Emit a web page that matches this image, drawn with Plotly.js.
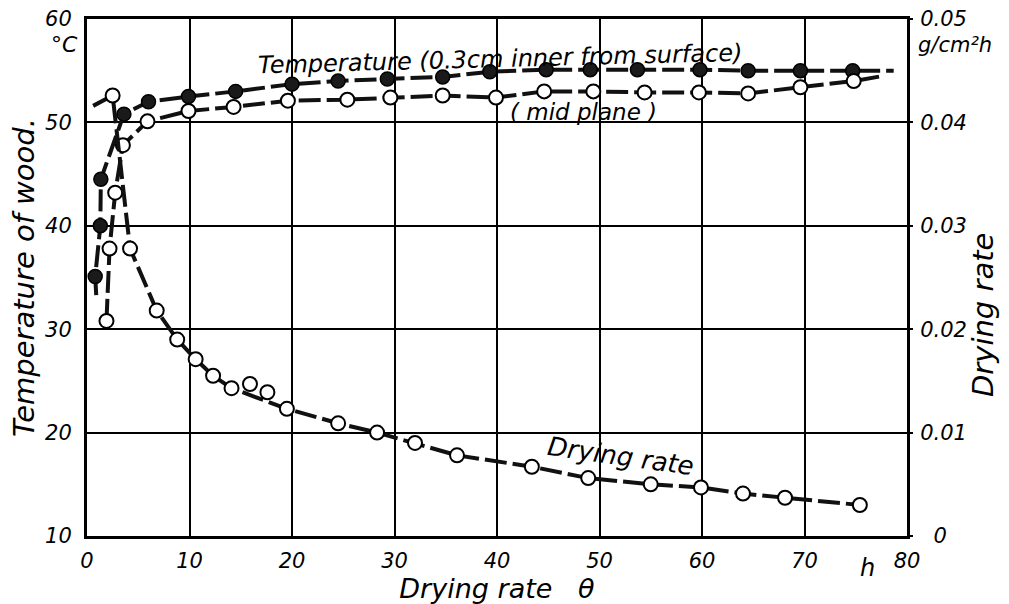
<!DOCTYPE html>
<html>
<head>
<meta charset="utf-8">
<script src="https://cdn.plot.ly/plotly-3.0.1.min.js"></script>
<style>html,body{margin:0;padding:0;background:#fff;}#chart{width:1009px;height:604px;}</style>
</head>
<body>
<div id="chart"></div>
<script>
// Drying time (h) and temperature (°C), 0.3 cm inner from surface (filled circles)
const surfaceHours = [0.9, 0.8, 1.3, 1.35, 3.6, 6.0, 9.9, 14.5, 20.0, 24.5, 29.3, 34.7, 39.3, 44.8, 49.1, 53.7, 59.8, 64.5, 69.6, 74.7, 78.7];
const surfaceTemp  = [33.3, 35.1, 40.0, 44.5, 50.8, 52.0, 52.5, 53.0, 53.7, 54.0, 54.2, 54.4, 54.9, 55.1, 55.1, 55.1, 55.1, 55.0, 55.0, 55.0, 55.0];
const surfaceMarkerShown = [0,1,1,1,1,1,1,1,1,1,1,1,1,1,1,1,1,1,1,1,0];

// Mid plane temperature (open circles)
const midHours = [1.9, 2.2, 2.75, 3.5, 5.9, 9.9, 14.3, 19.6, 25.4, 29.6, 34.7, 39.9, 44.6, 49.4, 54.4, 59.7, 64.5, 69.6, 74.8, 77.7];
const midTemp  = [30.8, 37.8, 43.2, 47.8, 50.1, 51.1, 51.5, 52.1, 52.2, 52.4, 52.6, 52.4, 53.0, 53.0, 52.9, 52.9, 52.8, 53.4, 54.0, 54.5];
const midMarkerShown = [1,1,1,1,1,1,1,1,1,1,1,1,1,1,1,1,1,1,1,0];

// Drying rate (g/cm²h)
const rateHours = [0.6, 2.5, 4.2, 6.8, 8.8, 10.6, 12.3, 14.1, 19.5, 24.5, 28.3, 32.0, 36.1, 43.4, 48.9, 55.0, 59.9, 64.0, 68.1, 75.4];
const rateValues = [0.0416, 0.0426, 0.0278, 0.0218, 0.0190, 0.0171, 0.0155, 0.0143, 0.0123, 0.0109, 0.0100, 0.0090, 0.0078, 0.0067, 0.0056, 0.0050, 0.0047, 0.0041, 0.0037, 0.0030];
const rateMarkerShown = [0,1,1,1,1,1,1,1,1,1,1,1,1,1,1,1,1,1,1,1];
// Scattered drying-rate points off the curve
const rateOffHours = [15.9, 17.6];
const rateOffValues = [0.0147, 0.0139];

// Tick labels
const xTicks = [0, 10, 20, 30, 40, 50, 60, 70, 80];
const tempTicks = [10, 20, 30, 40, 50, 60];
const rateTicks = [0, 0.01, 0.02, 0.03, 0.04, 0.05];
const rateTickText = ['\u00a0\u00a00', '0.01', '0.02', '0.03', '0.04', '0.05'];

const FONT = 'DejaVu Sans, Liberation Sans, sans-serif';
const MS = 14;
const dashStyle = '22px,6px';
function sizes(flags){ return flags.map(f => f ? MS : 0); }

const traces = [
  {
    x: surfaceHours, y: surfaceTemp, type: 'scatter', mode: 'lines+markers',
    name: 'Temperature (0.3cm inner from surface)',
    line: {color: '#111', width: 4, dash: dashStyle},
    marker: {size: sizes(surfaceMarkerShown), opacity: 1, color: '#1a1a1a', line: {color: '#000', width: 1.5}}
  },
  {
    x: midHours, y: midTemp, type: 'scatter', mode: 'lines+markers',
    name: 'Mid plane',
    line: {color: '#111', width: 4, dash: dashStyle},
    marker: {size: sizes(midMarkerShown), opacity: 1, color: '#fff', line: {color: '#000', width: 2}}
  },
  {
    x: rateHours, y: rateValues, type: 'scatter', mode: 'lines+markers', yaxis: 'y2',
    name: 'Drying rate',
    line: {color: '#111', width: 4, dash: dashStyle},
    marker: {size: sizes(rateMarkerShown), opacity: 1, color: '#fff', line: {color: '#000', width: 2}}
  },
  {
    x: rateOffHours, y: rateOffValues, type: 'scatter', mode: 'markers', yaxis: 'y2',
    name: 'Drying rate (scatter)',
    marker: {size: MS, opacity: 1, color: '#fff', line: {color: '#000', width: 2}}
  }
];

const tickFont = {family: FONT, size: 21, color: '#000', style: 'italic'};
function f(size){ return {family: FONT, size: size, color: '#000', style: 'italic'}; }

const layout = {
  width: 1009, height: 604,
  margin: {l: 87, r: 102, t: 19, b: 68},
  paper_bgcolor: '#fff', plot_bgcolor: '#fff',
  showlegend: false,
  font: {family: FONT, color: '#000', style: 'italic'},
  xaxis: {
    range: [0, 80], tickvals: xTicks, ticktext: xTicks.map(String),
    showgrid: true, gridcolor: '#000', gridwidth: 2,
    showline: true, mirror: true, linecolor: '#000', linewidth: 3,
    zeroline: false, ticks: '', ticklabelstandoff: 4,
    tickfont: tickFont,
    title: {text: 'Drying rate\u00a0\u00a0\u00a0θ', font: f(27), standoff: 7}
  },
  yaxis: {
    range: [10, 60], tickvals: tempTicks, ticktext: tempTicks.map(String),
    showgrid: true, gridcolor: '#000', gridwidth: 2,
    showline: true, mirror: true, linecolor: '#000', linewidth: 3,
    zeroline: false, ticks: '', ticklabelstandoff: 8,
    tickfont: tickFont,
    title: {text: 'Temperature of wood.', font: f(29), standoff: 2}
  },
  yaxis2: {
    overlaying: 'y', side: 'right', range: [0, 0.05],
    tickvals: rateTicks, ticktext: rateTickText,
    showgrid: false, zeroline: false, showline: false,
    ticks: 'outside', ticklen: 5, tickwidth: 2, tickcolor: '#000',
    ticklabelstandoff: 3,
    tickfont: tickFont
  },
  annotations: [
    {xref: 'x', yref: 'y', x: 40.3, y: 56.1, text: 'Temperature\u00a0(0.3cm\u00a0inner\u00a0from\u00a0surface)',
     showarrow: false, textangle: -1.5, xanchor: 'center', yanchor: 'middle', font: f(24)},
    {xref: 'x', yref: 'y', x: 48.4, y: 51.0, text: '(\u00a0mid\u00a0plane\u00a0)',
     showarrow: false, xanchor: 'center', yanchor: 'middle', font: f(23)},
    {xref: 'x', yref: 'y', x: 52.0, y: 17.7, text: 'Drying rate',
     showarrow: false, textangle: 8, xanchor: 'center', yanchor: 'middle', font: f(26)},
    {xref: 'paper', yref: 'paper', x: -0.028, y: 0.951, text: '°C', showarrow: false,
     xanchor: 'center', yanchor: 'middle', font: f(22)},
    {xref: 'paper', yref: 'paper', x: 1.0585, y: 0.95, text: 'g/cm²h', showarrow: false,
     xanchor: 'center', yanchor: 'middle', font: f(21)},
    {xref: 'paper', yref: 'paper', x: 0.952, y: -0.062, text: 'h', showarrow: false,
     xanchor: 'center', yanchor: 'middle', font: f(24)},
    {xref: 'paper', yref: 'paper', x: 1.0927, y: 0.4275, text: 'Drying rate', showarrow: false, textangle: -90,
     xanchor: 'center', yanchor: 'middle', font: f(29)}
  ]
};

Plotly.newPlot('chart', traces, layout, {displayModeBar: false, staticPlot: true});
</script>
</body>
</html>
